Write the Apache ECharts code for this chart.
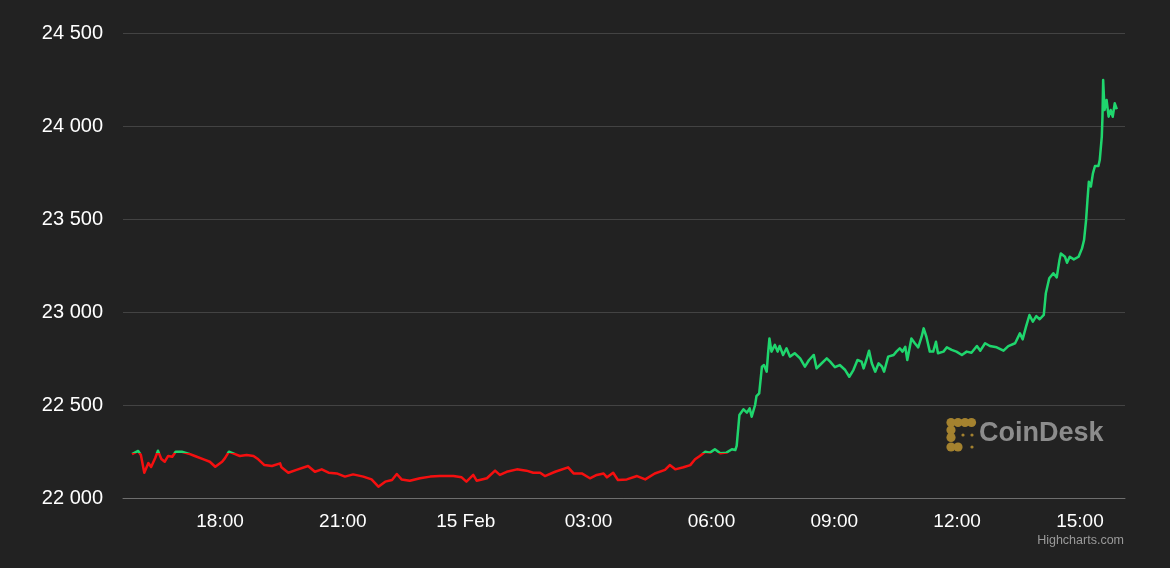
<!DOCTYPE html>
<html>
<head>
<meta charset="utf-8">
<script src="https://cdn.jsdelivr.net/npm/echarts@6/dist/echarts.min.js"></script>
<style>
  html, body { margin: 0; padding: 0; background: #222222; }
  #chart { width: 1170px; height: 568px; }
</style>
</head>
<body>
<div id="chart"></div>
<script>
// Times (14 Feb 15:51 -> 15 Feb 15:54), HH:MM, rolling over midnight
const times = [
  '15:51','16:00','16:04','16:09','16:15','16:19','16:25','16:29','16:34','16:39',
  '16:44','16:50','16:55','17:04','17:16','17:23','17:36','17:45','17:53','18:03',
  '18:07','18:13','18:22','18:29','18:39','18:49','18:56','19:05','19:16','19:28',
  '19:30','19:40','19:52','20:09','20:19','20:29','20:39','20:51','21:03','21:15',
  '21:30','21:42','21:52','22:02','22:12','22:19','22:26','22:38','22:53','23:08',
  '23:22','23:42','23:54','00:01','00:11','00:16','00:31','00:43','00:50','01:00',
  '01:15','01:29','01:39','01:49','01:56','02:11','02:30','02:38','02:50','03:02',
  '03:12','03:22','03:27','03:36','03:43','03:56','04:11','04:23','04:37','04:52',
  '04:59','05:07','05:19','05:29','05:36','05:43','05:51','05:58','06:05','06:13',
  '06:22','06:30','06:35','06:37','06:41','06:47','06:52','06:56','06:59','07:04',
  '07:06','07:10','07:14','07:17','07:21','07:23','07:25','07:28','07:33','07:37',
  '07:40','07:45','07:50','07:55','08:02','08:10','08:17','08:23','08:30','08:34',
  '08:39','08:49','08:54','09:01','09:08','09:16','09:22','09:28','09:34','09:40',
  '09:43','09:47','09:51','09:55','10:00','10:05','10:10','10:13','10:19','10:27',
  '10:31','10:36','10:40','10:44','10:47','10:53','10:58','11:03','11:08','11:11',
  '11:15','11:20','11:25','11:29','11:32','11:40','11:45','11:52','11:59','12:07',
  '12:14','12:21','12:29','12:34','12:41','12:48','12:58','13:08','13:15','13:25',
  '13:32','13:36','13:41','13:46','13:51','13:56','14:01','14:07','14:10','14:15',
  '14:21','14:26','14:30','14:32','14:38','14:41','14:45','14:51','14:58','15:03',
  '15:06','15:09','15:11','15:13','15:16','15:19','15:22','15:27','15:29','15:32',
  '15:33','15:34','15:36','15:39','15:42','15:45','15:48','15:51','15:54'
];
const prices = [
  22236,22253,22231,22136,22188,22167,22215,22254,22210,22195,
  22226,22222,22249,22249,22236,22226,22208,22195,22168,22195,
  22213,22249,22236,22226,22231,22226,22208,22177,22172,22186,
  22165,22136,22151,22172,22141,22154,22136,22132,22115,22127,
  22115,22100,22061,22088,22097,22129,22100,22093,22106,22115,
  22118,22118,22111,22088,22124,22093,22106,22147,22124,22141,
  22154,22147,22136,22136,22118,22141,22165,22132,22132,22106,
  22124,22132,22111,22136,22097,22100,22118,22100,22132,22151,
  22177,22154,22165,22177,22208,22226,22249,22244,22262,22240,
  22244,22262,22258,22280,22446,22477,22459,22482,22437,22500,
  22548,22563,22706,22715,22679,22778,22858,22787,22823,22787,
  22817,22769,22805,22760,22778,22751,22706,22742,22769,22697,
  22715,22751,22733,22703,22715,22688,22652,22688,22742,22733,
  22697,22742,22792,22724,22679,22724,22706,22679,22760,22769,
  22787,22805,22787,22813,22742,22858,22832,22810,22867,22912,
  22867,22787,22787,22840,22778,22787,22810,22796,22787,22769,
  22787,22781,22817,22792,22832,22817,22810,22792,22817,22832,
  22885,22853,22921,22984,22948,22978,22961,22984,23101,23181,
  23208,23186,23280,23315,23297,23265,23297,23283,23297,23342,
  23387,23495,23602,23700,23674,23745,23785,23785,23817,23943,
  24050,24247,24086,24140,24050,24086,24050,24122,24090
];
// Tick positions in hours since 14 Feb 00:00
const xTicks = [18, 21, 24, 27, 30, 33, 36, 39];
const yTicks = [22000, 22500, 23000, 23500, 24000, 24500];
const threshold = 22240; // opening price: green above, red below

const GREEN = '#1fd66d';
const RED = '#f50f0f';

// convert HH:MM strings to hours since 14 Feb 00:00
const hours = [];
let dayOffset = 0, prev = -1;
times.forEach(t => {
  const [h, m] = t.split(':').map(Number);
  let v = h + m / 60;
  if (v + dayOffset < prev) dayOffset += 24;
  v += dayOffset;
  hours.push(v);
  prev = v;
});
const seriesData = hours.map((h, i) => [h, prices[i]]);

function fmtThousands(v) {
  return String(v).replace(/\B(?=(\d{3})+(?!\d))/g, ' ');
}
function fmtHour(v) {
  const h = Math.round(v) % 24;
  if (h === 0) return '15 Feb';
  return (h < 10 ? '0' : '') + h + ':00';
}

const FONT = '"Liberation Sans", Arial, Helvetica, sans-serif';
const chart = echarts.init(document.getElementById('chart'), null, { renderer: 'canvas' });

// CoinDesk watermark logo blobs (decorative)
const gold = '#a4822f';
const logoCircles = [
  [951, 422.5, 4.6], [958, 422.5, 4.6], [965, 422.5, 4.6], [971.5, 422.5, 4.6],
  [951, 430, 4.6], [951, 437.5, 4.6], [951, 447, 4.6], [958, 447, 4.6],
  [963, 435, 1.6], [972, 435, 1.6], [972, 447, 1.6]
];

const option = {
  backgroundColor: '#222222',
  animation: false,
  grid: { left: 123, right: 45, top: 33, bottom: 70, containLabel: false },
  xAxis: {
    type: 'value',
    min: 15.63,
    max: 40.10,
    axisLine: { show: true, lineStyle: { color: '#6e6e6e', width: 1 } },
    axisTick: { show: false },
    splitLine: { show: false },
    axisLabel: {
      customValues: xTicks,
      formatter: fmtHour,
      color: '#ffffff',
      fontSize: 19,
      fontFamily: FONT,
      margin: 14
    }
  },
  yAxis: {
    type: 'value',
    min: 22000,
    max: 24500,
    interval: 500,
    axisLine: { show: false },
    axisTick: { show: false },
    splitLine: { show: true, lineStyle: { color: '#434343', width: 1 } },
    axisLabel: {
      formatter: fmtThousands,
      color: '#ffffff',
      fontSize: 20,
      fontFamily: FONT,
      margin: 20
    }
  },
  visualMap: {
    type: 'piecewise',
    show: false,
    dimension: 1,
    seriesIndex: 0,
    pieces: [
      { gte: 20000, lte: threshold, color: RED },
      { gt: threshold, lte: 26000, color: GREEN }
    ]
  },
  series: [{
    type: 'line',
    data: seriesData,
    showSymbol: false,
    symbol: 'none',
    lineStyle: { width: 2.5, join: 'round' },
    z: 5
  }],
  graphic: [
    ...logoCircles.map(c => ({
      type: 'circle',
      shape: { cx: c[0], cy: c[1], r: c[2] },
      style: { fill: gold },
      z: 1, silent: true
    })),
    {
      type: 'text',
      left: 979, top: 420,
      style: {
        text: 'CoinDesk',
        fill: '#8c8c8c',
        font: 'bold 27px ' + FONT
      },
      z: 1, silent: true
    },
    {
      type: 'text',
      right: 46, top: 534,
      style: {
        text: 'Highcharts.com',
        fill: '#9a9a9a',
        font: '12.5px ' + FONT
      },
      silent: true
    }
  ]
};
chart.setOption(option);
</script>
</body>
</html>
